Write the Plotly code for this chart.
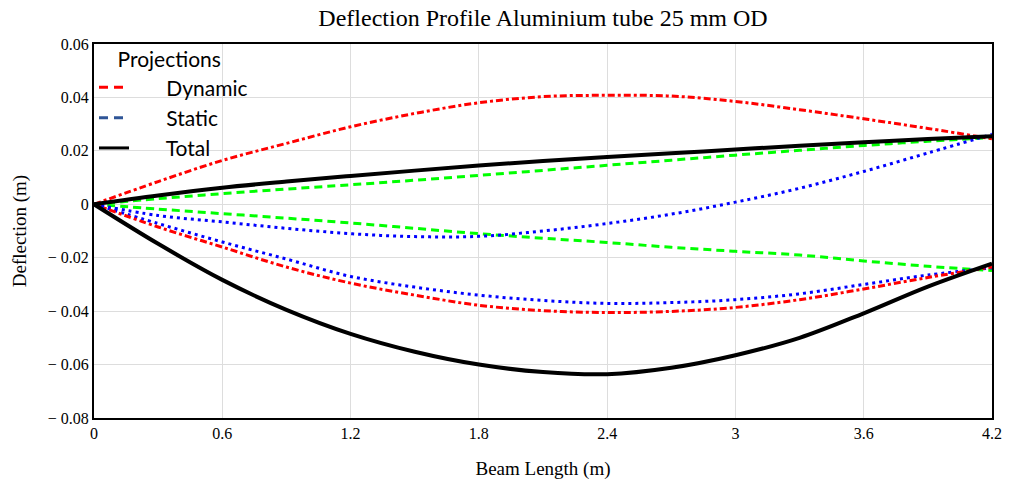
import plotly.graph_objects as go

x_vals = [0, 0.3, 0.6, 0.9, 1.2, 1.5, 1.8, 2.1, 2.4, 2.7, 3.0, 3.3, 3.6, 3.9, 4.2]

dynamic_upper = [0, 0.0085, 0.0164, 0.0228, 0.029, 0.034, 0.038, 0.0403, 0.0408, 0.0405, 0.0385, 0.0354, 0.0320, 0.0284, 0.0245]
dynamic_lower = [0, -0.0085, -0.016, -0.0235, -0.0295, -0.034, -0.0378, -0.0398, -0.0405, -0.0401, -0.0386, -0.0357, -0.0317, -0.0274, -0.0235]
static_upper = [0, -0.0042, -0.0066, -0.009, -0.0110, -0.0121, -0.0120, -0.0100, -0.0072, -0.0037, 0.0008, 0.0060, 0.0123, 0.0192, 0.0262]
static_lower = [0, -0.0072, -0.0141, -0.0205, -0.027, -0.031, -0.034, -0.036, -0.0371, -0.0368, -0.0357, -0.0335, -0.030, -0.0265, -0.0238]
proj_upper = [0, 0.0021, 0.0040, 0.0057, 0.0073, 0.0090, 0.0108, 0.0127, 0.0146, 0.0165, 0.0184, 0.0202, 0.022, 0.0236, 0.025]
proj_lower = [0, -0.0018, -0.0035, -0.0052, -0.007, -0.009, -0.011, -0.0127, -0.0143, -0.0161, -0.0176, -0.019, -0.0212, -0.0232, -0.0248]
total_upper = [0, 0.0033, 0.0062, 0.0085, 0.0106, 0.0126, 0.0145, 0.0162, 0.0177, 0.0191, 0.0205, 0.0219, 0.0232, 0.0244, 0.0255]
total_lower = [0, -0.0148, -0.0283, -0.0395, -0.0485, -0.0552, -0.0600, -0.0628, -0.0636, -0.0612, -0.0565, -0.0500, -0.0408, -0.0308, -0.0222]

y_ticks = [0.06, 0.04, 0.02, 0, -0.02, -0.04, -0.06, -0.08]
y_ticktext = ["0.06", "0.04", "0.02", "0", "\u2212 0.02", "\u2212 0.04", "\u2212 0.06", "\u2212 0.08"]
x_ticks = [0, 0.6, 1.2, 1.8, 2.4, 3.0, 3.6, 4.2]
x_ticktext = ["0", "0.6", "1.2", "1.8", "2.4", "3", "3.6", "4.2"]

fig = go.Figure()

series = [
    (proj_upper, "#00ff00", "8px,5px", 3),
    (proj_lower, "#00ff00", "8px,5px", 3),
    (static_upper, "#0000ff", "3px,4px", 3),
    (static_lower, "#0000ff", "3px,4px", 3),
    (dynamic_upper, "#ff0000", "7px,3px,3px,3px", 3),
    (dynamic_lower, "#ff0000", "7px,3px,3px,3px", 3),
    (total_upper, "#000000", "solid", 4),
    (total_lower, "#000000", "solid", 4),
]
for ys, col, dash, w in series:
    fig.add_trace(go.Scatter(x=x_vals, y=ys, mode="lines", showlegend=False,
                             line=dict(color=col, dash=dash, width=w, shape="spline")))

pad = "\u00a0" * 6
legend_items = [
    (pad + "Dynamic", "#ff0000", "9px,6px,9px,6px,3px,6px"),
    (pad + "Static", "#2f5597", "9px,6px,9px,6px,3px,6px"),
    (pad + "Total", "#000000", "solid"),
]
for name, col, dash in legend_items:
    fig.add_trace(go.Scatter(x=[None], y=[None], mode="lines", name=name,
                             line=dict(color=col, dash=dash, width=3)))

serif = "Liberation Serif, Times New Roman, serif"
sans = "Lato, Open Sans, sans-serif"
fig.update_layout(
    width=1009, height=486,
    margin=dict(l=94, r=17, t=44, b=68),
    paper_bgcolor="white", plot_bgcolor="white",
    title=dict(text="Deflection Profile Aluminium tube 25 mm OD", x=0.5, xref="paper",
               y=1 - 18 / 486, yref="container", yanchor="middle",
               font=dict(family=serif, size=24, color="black")),
    legend=dict(x=0.0, y=1.011, xanchor="left", yanchor="top", bgcolor="rgba(0,0,0,0)",
                title=dict(text="\u00a0" * 4 + "Projections", font=dict(family=sans, size=21, color="black")),
                font=dict(family=sans, size=21, color="black"),
                tracegroupgap=0),
    xaxis=dict(range=[0, 4.2], tickvals=x_ticks, ticktext=x_ticktext, showgrid=True,
               gridcolor="#dddddd", gridwidth=1, zeroline=False, showline=True, linecolor="black",
               linewidth=2, mirror=True, ticks="", automargin=False,
               tickfont=dict(family=serif, size=16, color="black"),
               title=dict(text="Beam Length (m)", font=dict(family=serif, size=19, color="black"), standoff=20)),
    yaxis=dict(range=[-0.08, 0.06], tickvals=y_ticks, ticktext=y_ticktext, showgrid=True,
               gridcolor="#dddddd", gridwidth=1, zeroline=False, showline=True, linecolor="black",
               linewidth=2, mirror=True, ticks="", automargin=False,
               tickfont=dict(family=serif, size=16, color="black"),
               title=dict(text="Deflection (m)", font=dict(family=serif, size=19, color="black"), standoff=16)),
)

fig.write_html("out.html", config={"displayModeBar": False},
               post_script="document.body.style.margin='0';document.body.style.overflow='hidden';")
